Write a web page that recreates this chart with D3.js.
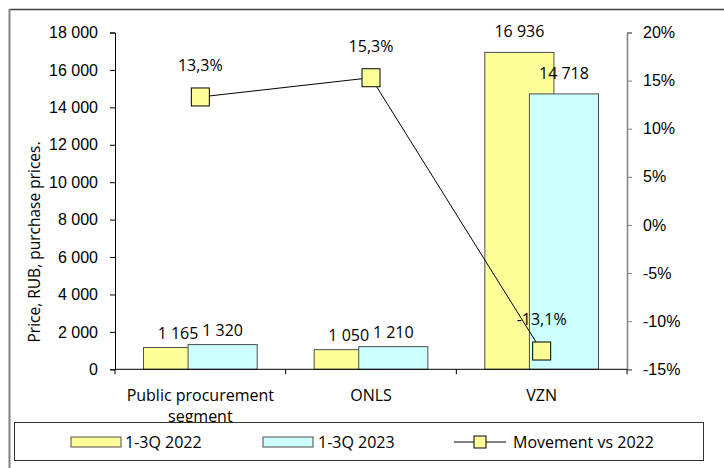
<!DOCTYPE html>
<html><head><meta charset="utf-8">
<script src="https://cdn.jsdelivr.net/npm/d3@7"></script>
<style>body{margin:0;background:#fff}svg{display:block;font-family:"Open Sans","Noto Sans",sans-serif}</style>
</head><body><svg id="c" width="724" height="468"></svg>
<script>
const categories = ["Public procurement segment", "ONLS", "VZN"];
const categoryLines = [["Public procurement", "segment"], ["ONLS"], ["VZN"]];
const series2022 = [1165, 1050, 16936];
const series2023 = [1320, 1210, 14718];
const movement = [13.3, 15.3, -13.1];
const leftTicks = [0, 2000, 4000, 6000, 8000, 10000, 12000, 14000, 16000, 18000];
const rightTicks = [-15, -10, -5, 0, 5, 10, 15, 20];
const seriesNames = ["1-3Q 2022", "1-3Q 2023", "Movement vs 2022"];

const svg = d3.select("#c");
const L = 115, R = 627, T = 32.5, B = 369.3;
const fs = 16;
const yellow = "#ffff99", cyan = "#ccffff", barStroke = "#4d4d4d";

// outer frame
svg.append("line").attr("x1", 9).attr("x2", 724).attr("y1", 9.5).attr("y2", 9.5).attr("stroke", "#404040").attr("stroke-width", 1.5);
svg.append("line").attr("x1", 9.5).attr("x2", 9.5).attr("y1", 9).attr("y2", 468).attr("stroke", "#808080").attr("stroke-width", 2);

const x = d3.scaleBand().domain(categories).range([L, R]);
const y = d3.scaleLinear().domain([0, 18000]).range([B, T]);
const y2 = d3.scaleLinear().domain([-15, 20]).range([B, T]);
const bw = x.bandwidth();
const barW = bw * 0.405;
const shift = barW * 0.645 / 2;

const fmtNum = v => d3.format(",")(v).replace(/,/g, " ");
const fmtPct = v => d3.format(".1f")(v).replace(".", ",").replace("\u2212", "-") + "%";

// bars
const bars = [[series2022, yellow, -1], [series2023, cyan, 1]];
bars.forEach(([vals, col, s]) => {
  svg.append("g").selectAll("rect").data(categories).join("rect")
    .attr("x", d => x(d) + bw / 2 + s * shift - barW / 2)
    .attr("y", (d, i) => y(vals[i]))
    .attr("width", barW)
    .attr("height", (d, i) => B - y(vals[i]))
    .attr("fill", col).attr("stroke", barStroke).attr("stroke-width", 1);
});
bars.forEach(([vals, col, s]) => {
  svg.append("g").selectAll("text").data(categories).join("text")
    .attr("x", d => x(d) + bw / 2 + s * shift)
    .attr("y", (d, i) => y(vals[i]) - 8.5 - 7 * vals[i] / 17000)
    .attr("text-anchor", "middle").attr("font-size", fs).attr("fill", "#000")
    .text((d, i) => fmtNum(vals[i]));
});

// left axis
const ax = svg.append("g").attr("transform", `translate(${L},0)`)
  .call(d3.axisLeft(y).tickValues(leftTicks).tickSize(5).tickPadding(12).tickFormat(fmtNum));
ax.select(".domain").attr("stroke", "#000");
ax.selectAll(".tick line").attr("stroke", "#000");
ax.selectAll("text").attr("font-size", fs).attr("font-family", "inherit").attr("fill", "#000");

// right axis
const ar = svg.append("g").attr("transform", `translate(${R},0)`)
  .call(d3.axisRight(y2).tickValues(rightTicks).tickSize(5).tickPadding(11).tickFormat(d => d + "%"));
ar.select(".domain").attr("stroke", "#808080").attr("stroke-width", 1.5);
ar.selectAll(".tick line").attr("stroke", "#808080");
ar.selectAll("text").attr("font-size", fs).attr("font-family", "inherit").attr("fill", "#000");

// bottom axis
svg.append("line").attr("x1", L).attr("x2", R).attr("y1", B).attr("y2", B).attr("stroke", "#000");
const bt = categories.map(c => x(c)).concat([R]);
svg.append("g").selectAll("line").data(bt).join("line")
  .attr("x1", d => d).attr("x2", d => d).attr("y1", B).attr("y2", B + 5).attr("stroke", "#000");
svg.append("g").selectAll("text").data(categories).join("text")
  .attr("x", d => x(d) + bw / 2).attr("y", 400.5)
  .attr("text-anchor", "middle").attr("font-size", fs)
  .each(function (d, i) {
    d3.select(this).selectAll("tspan").data(categoryLines[i]).join("tspan")
      .attr("x", x(d) + bw / 2).attr("dy", (t, j) => j ? 21 : 0).text(t => t);
  });

// y title
svg.append("text").attr("transform", "translate(40,242) rotate(-90)")
  .attr("text-anchor", "middle").attr("font-size", 15.5).text("Price, RUB, purchase prices.");

// line
const line = d3.line().x((d, i) => x(categories[i]) + bw / 2).y(d => y2(d));
svg.append("path").datum(movement).attr("d", line).attr("fill", "none").attr("stroke", "#000").attr("stroke-width", 1);
svg.append("g").selectAll("rect").data(movement).join("rect")
  .attr("x", (d, i) => x(categories[i]) + bw / 2 - 9).attr("y", d => y2(d) - 9)
  .attr("width", 18).attr("height", 18).attr("fill", yellow).attr("stroke", "#000");
svg.append("g").selectAll("text").data(movement).join("text")
  .attr("x", (d, i) => x(categories[i]) + bw / 2).attr("y", d => y2(d) - 26)
  .attr("text-anchor", "middle").attr("font-size", fs).text(d => fmtPct(d));

// legend
const lg = svg.append("g");
lg.append("rect").attr("x", 14.5).attr("y", 422.5).attr("width", 689).attr("height", 38)
  .attr("fill", "#fff").attr("stroke", "#333").attr("stroke-width", 1);
lg.append("rect").attr("x", 71).attr("y", 437).attr("width", 50).attr("height", 10).attr("fill", yellow).attr("stroke", barStroke);
lg.append("text").attr("x", 125).attr("y", 448).attr("font-size", fs).text(seriesNames[0]);
lg.append("rect").attr("x", 263).attr("y", 437).attr("width", 50).attr("height", 10).attr("fill", cyan).attr("stroke", barStroke);
lg.append("text").attr("x", 318).attr("y", 448).attr("font-size", fs).text(seriesNames[1]);
lg.append("line").attr("x1", 454).attr("x2", 506).attr("y1", 442).attr("y2", 442).attr("stroke", "#000");
lg.append("rect").attr("x", 474).attr("y", 436).attr("width", 12).attr("height", 12).attr("fill", yellow).attr("stroke", "#000");
lg.append("text").attr("x", 513).attr("y", 448).attr("font-size", fs).text(seriesNames[2]);
</script></body></html>
